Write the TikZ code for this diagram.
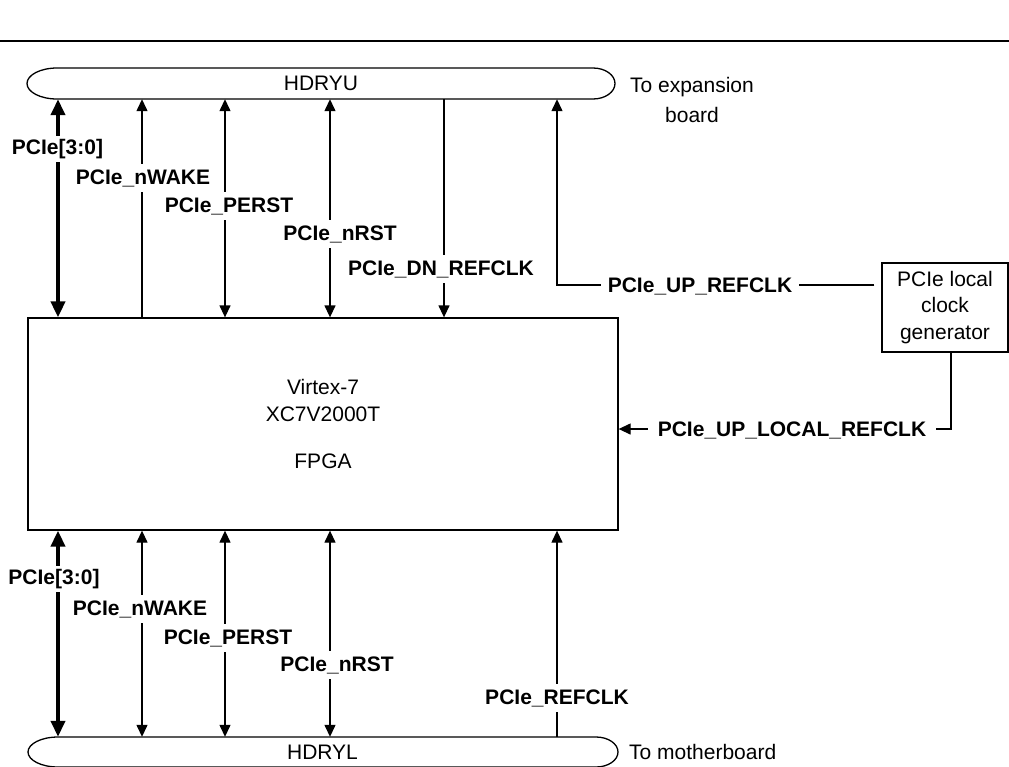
\documentclass[tikz,border=0pt]{standalone}
\usepackage{fontspec}
\setmainfont{Liberation Sans}
\usetikzlibrary{arrows.meta}
\begin{document}
\begin{tikzpicture}[x=1pt,y=-1pt,
  every node/.style={font=\fontsize{21}{26.5}\selectfont, inner sep=0pt},
  wire/.style={line width=1.3pt},
  bus/.style={line width=4pt},
  onetip/.style={-{Triangle[width=11pt,length=12pt]}},
  twotips/.style={{Triangle[width=11pt,length=12pt]}-{Triangle[width=11pt,length=12pt]}},
  bustips/.style={{Triangle[width=14pt,length=16pt]}-{Triangle[width=14pt,length=16pt]}},
  sig/.style={font=\fontsize{21}{26.5}\selectfont\bfseries, fill=white, inner xsep=7pt, inner ysep=5pt},
  bussig/.style={sig, inner ysep=3pt},
]
\useasboundingbox (0,0) rectangle (1009,766);

% top rule
\draw[wire] (0,41) -- (1009,41);

% column coordinates
\coordinate (c1) at (58,0);
\coordinate (c2) at (142,0);
\coordinate (c3) at (225,0);
\coordinate (c4) at (330,0);
\coordinate (c5) at (444,0);
\coordinate (c6) at (557,0);
\coordinate (r1) at (0,285);
\coordinate (r2) at (0,429);

% headers
\node[minimum width=588pt, minimum height=31pt] (hdryu) at (321,83.5) {HDRYU};
\draw[wire] (57,68) -- (593,68) arc[start angle=90, end angle=-90, x radius=22pt, y radius=15.5pt]
  -- (57,99) arc[start angle=270, end angle=90, x radius=30pt, y radius=15.5pt] -- cycle;
\node[align=center, font=\fontsize{21}{30}\selectfont] (toexp) at (692,100) {To expansion\\board};

\node[minimum width=591pt, minimum height=30pt] (hdryl) at (322.5,752) {HDRYL};
\draw[wire] (58,737) -- (596,737) arc[start angle=90, end angle=-90, x radius=22pt, y radius=15pt]
  -- (58,767) arc[start angle=270, end angle=90, x radius=30pt, y radius=15pt] -- cycle;
\node[anchor=west] (tomb) at (629,752) {To motherboard};

% FPGA
\node[draw, wire, minimum width=590pt, minimum height=212pt, align=center] (fpga) at (323,424)
  {Virtex-7\\XC7V2000T\\[21pt]FPGA};

% clock generator
\node[draw, wire, minimum width=126pt, minimum height=89pt, align=center] (clk) at (945,307.5)
  {PCIe local\\clock\\generator};

% top connectors
\draw[bus, bustips] (fpga.north -| c1) -- (hdryu.south -| c1);
\draw[wire, onetip] (fpga.north -| c2) -- (hdryu.south -| c2);
\draw[wire, twotips] (fpga.north -| c3) -- (hdryu.south -| c3);
\draw[wire, twotips] (fpga.north -| c4) -- (hdryu.south -| c4);
\draw[wire, onetip] (hdryu.south -| c5) -- (fpga.north -| c5);
\draw[wire, onetip, shorten <=7pt] (clk.west |- r1) -| (hdryu.south -| c6);
\draw[wire, onetip] ([xshift=6pt]clk.south) |- (fpga.east |- r2);

% bottom connectors
\draw[bus, bustips] (hdryl.north -| c1) -- (fpga.south -| c1);
\draw[wire, twotips] (hdryl.north -| c2) -- (fpga.south -| c2);
\draw[wire, twotips] (hdryl.north -| c3) -- (fpga.south -| c3);
\draw[wire, twotips] (hdryl.north -| c4) -- (fpga.south -| c4);
\draw[wire, onetip] (hdryl.north -| c6) -- (fpga.south -| c6);

% top labels
\node[bussig] (lu1) at (57.5,149) {PCIe[3:0]};
\node[sig] (lu2) at (143,178) {PCIe\_nWAKE};
\node[sig] (lu3) at (229,206) {PCIe\_PERST};
\node[sig] (lu4) at (340,234) {PCIe\_nRST};
\node[sig] (lu5) at (441,269) {PCIe\_DN\_REFCLK};
\node[sig] (lu6) at (700,286) {PCIe\_UP\_REFCLK};
\node[sig, inner xsep=10pt] (lu7) at (792,430) {PCIe\_UP\_LOCAL\_REFCLK};

% bottom labels
\node[bussig] (ll1) at (54,579) {PCIe[3:0]};
\node[sig] (ll2) at (140,609) {PCIe\_nWAKE};
\node[sig] (ll3) at (228,638) {PCIe\_PERST};
\node[sig] (ll4) at (337,665) {PCIe\_nRST};
\node[sig] (ll6) at (557,698) {PCIe\_REFCLK};
\end{tikzpicture}
\end{document}
